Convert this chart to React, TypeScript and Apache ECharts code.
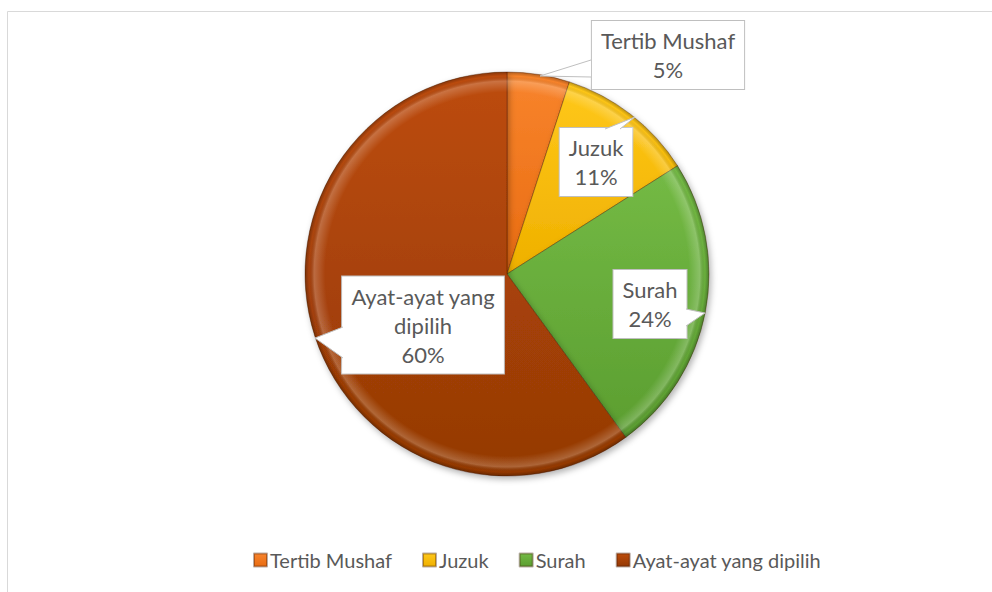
import React, { useEffect, useRef } from "react";
import * as echarts from "echarts";

const categories = ["Tertib Mushaf", "Juzuk", "Surah", "Ayat-ayat yang dipilih"];
const labelNames = ["Tertib Mushaf", "Juzuk", "Surah", "Ayat-ayat yang\ndipilih"];
const values = [5, 11, 24, 60];
const topColors = ["#f8842c", "#ffc81a", "#74ba45", "#bd4c0a"];
const bottomColors = ["#e96c12", "#efb000", "#5b9e30", "#943905"];

const FONT = "Lato, 'Open Sans', sans-serif";
const TEXT = "#595959";

export default function App() {
  const ref = useRef<HTMLDivElement>(null);
  useEffect(() => {
    if (!ref.current) return;
    const chart = echarts.init(ref.current, undefined, { renderer: "svg" });
    const cx = 507, cy = 274, R = 202;
    const labelPos = [
      [668, 55],
      [596, 162],
      [650, 304],
      [423, 325],
    ];
    const grad = (i: number) =>
      new echarts.graphic.LinearGradient(0, 0, 0, 1, [
        { offset: 0, color: topColors[i] },
        { offset: 1, color: bottomColors[i] },
      ]);
    const bevel = new echarts.graphic.RadialGradient(
      cx, cy, R,
      [
        { offset: 0, color: "rgba(255,255,255,0)" },
        { offset: 0.9, color: "rgba(255,255,255,0)" },
        { offset: 0.955, color: "rgba(255,255,255,0.22)" },
        { offset: 0.98, color: "rgba(0,0,0,0)" },
        { offset: 1, color: "rgba(0,0,0,0.28)" },
      ],
      true
    );
    const tails = [
      [[591, 60], [540, 76], [591, 77]],
      [[605, 129], [635, 117], [620, 129]],
      [[686, 309], [705, 313], [686, 326]],
      [[343, 327], [315, 338], [343, 358]],
    ];
    const graphic: any[] = [
      {
        type: "rect",
        shape: { x: 7.5, y: 11.5, width: 1000, height: 600 },
        style: { fill: "none", stroke: "#d9d9d9", lineWidth: 1 },
        silent: true,
        z: -10,
      },
    ];
    tails.forEach((t) => {
      graphic.push({
        type: "polygon",
        shape: { points: t },
        style: { fill: "#ffffff", stroke: "none" },
        z: 100,
        silent: true,
      });
      graphic.push({
        type: "polyline",
        shape: { points: t },
        style: { fill: "none", stroke: "#bfbfbf", lineWidth: 1 },
        z: 101,
        silent: true,
      });
    });
    chart.setOption({
      animation: false,
      backgroundColor: "#ffffff",
      legend: {
        data: categories,
        left: 248,
        top: 545,
        icon: "rect",
        itemWidth: 13,
        itemHeight: 13,
        itemGap: 30,
        textStyle: { fontSize: 20, color: TEXT, fontFamily: FONT, padding: [0, 0, 0, -2] },
      },
      graphic,
      series: [
        {
          type: "pie",
          center: [cx, cy],
          radius: R,
          startAngle: 90,
          clockwise: true,
          percentPrecision: 0,
          data: categories.map((c, i) => ({
            name: c,
            value: values[i],
            itemStyle: { color: grad(i) },
          })),
          itemStyle: {
            borderColor: "rgba(60,20,0,0.35)",
            borderWidth: 1,
            shadowBlur: 6,
            shadowOffsetX: 2,
            shadowOffsetY: 3,
            shadowColor: "rgba(0,0,0,0.3)",
          },
          label: {
            show: true,
            formatter: (p: any) => `${labelNames[p.dataIndex]}\n${p.percent}%`,
            fontFamily: FONT,
            fontSize: 22,
            lineHeight: 29,
            color: TEXT,
            align: "center",
            backgroundColor: "#ffffff",
            borderColor: "#bfbfbf",
            borderWidth: 1,
            padding: [5, 9],
          },
          labelLine: { show: false },
          labelLayout: (params: any) => ({
            x: labelPos[params.dataIndex][0],
            y: labelPos[params.dataIndex][1],
            align: "center",
            verticalAlign: "middle",
          }),
          emphasis: { disabled: true },
        },
        {
          type: "pie",
          center: [cx, cy],
          radius: R,
          startAngle: 90,
          clockwise: true,
          silent: true,
          z: 3,
          data: categories.map((c, i) => ({
            name: c,
            value: values[i],
            itemStyle: { color: bevel },
          })),
          label: { show: false },
          labelLine: { show: false },
          emphasis: { disabled: true },
        },
      ],
    });
    return () => chart.dispose();
  }, []);
  return (
    <div
      ref={ref}
      style={{ position: "fixed", left: 0, top: 0, width: 992, height: 592 }}
    />
  );
}
